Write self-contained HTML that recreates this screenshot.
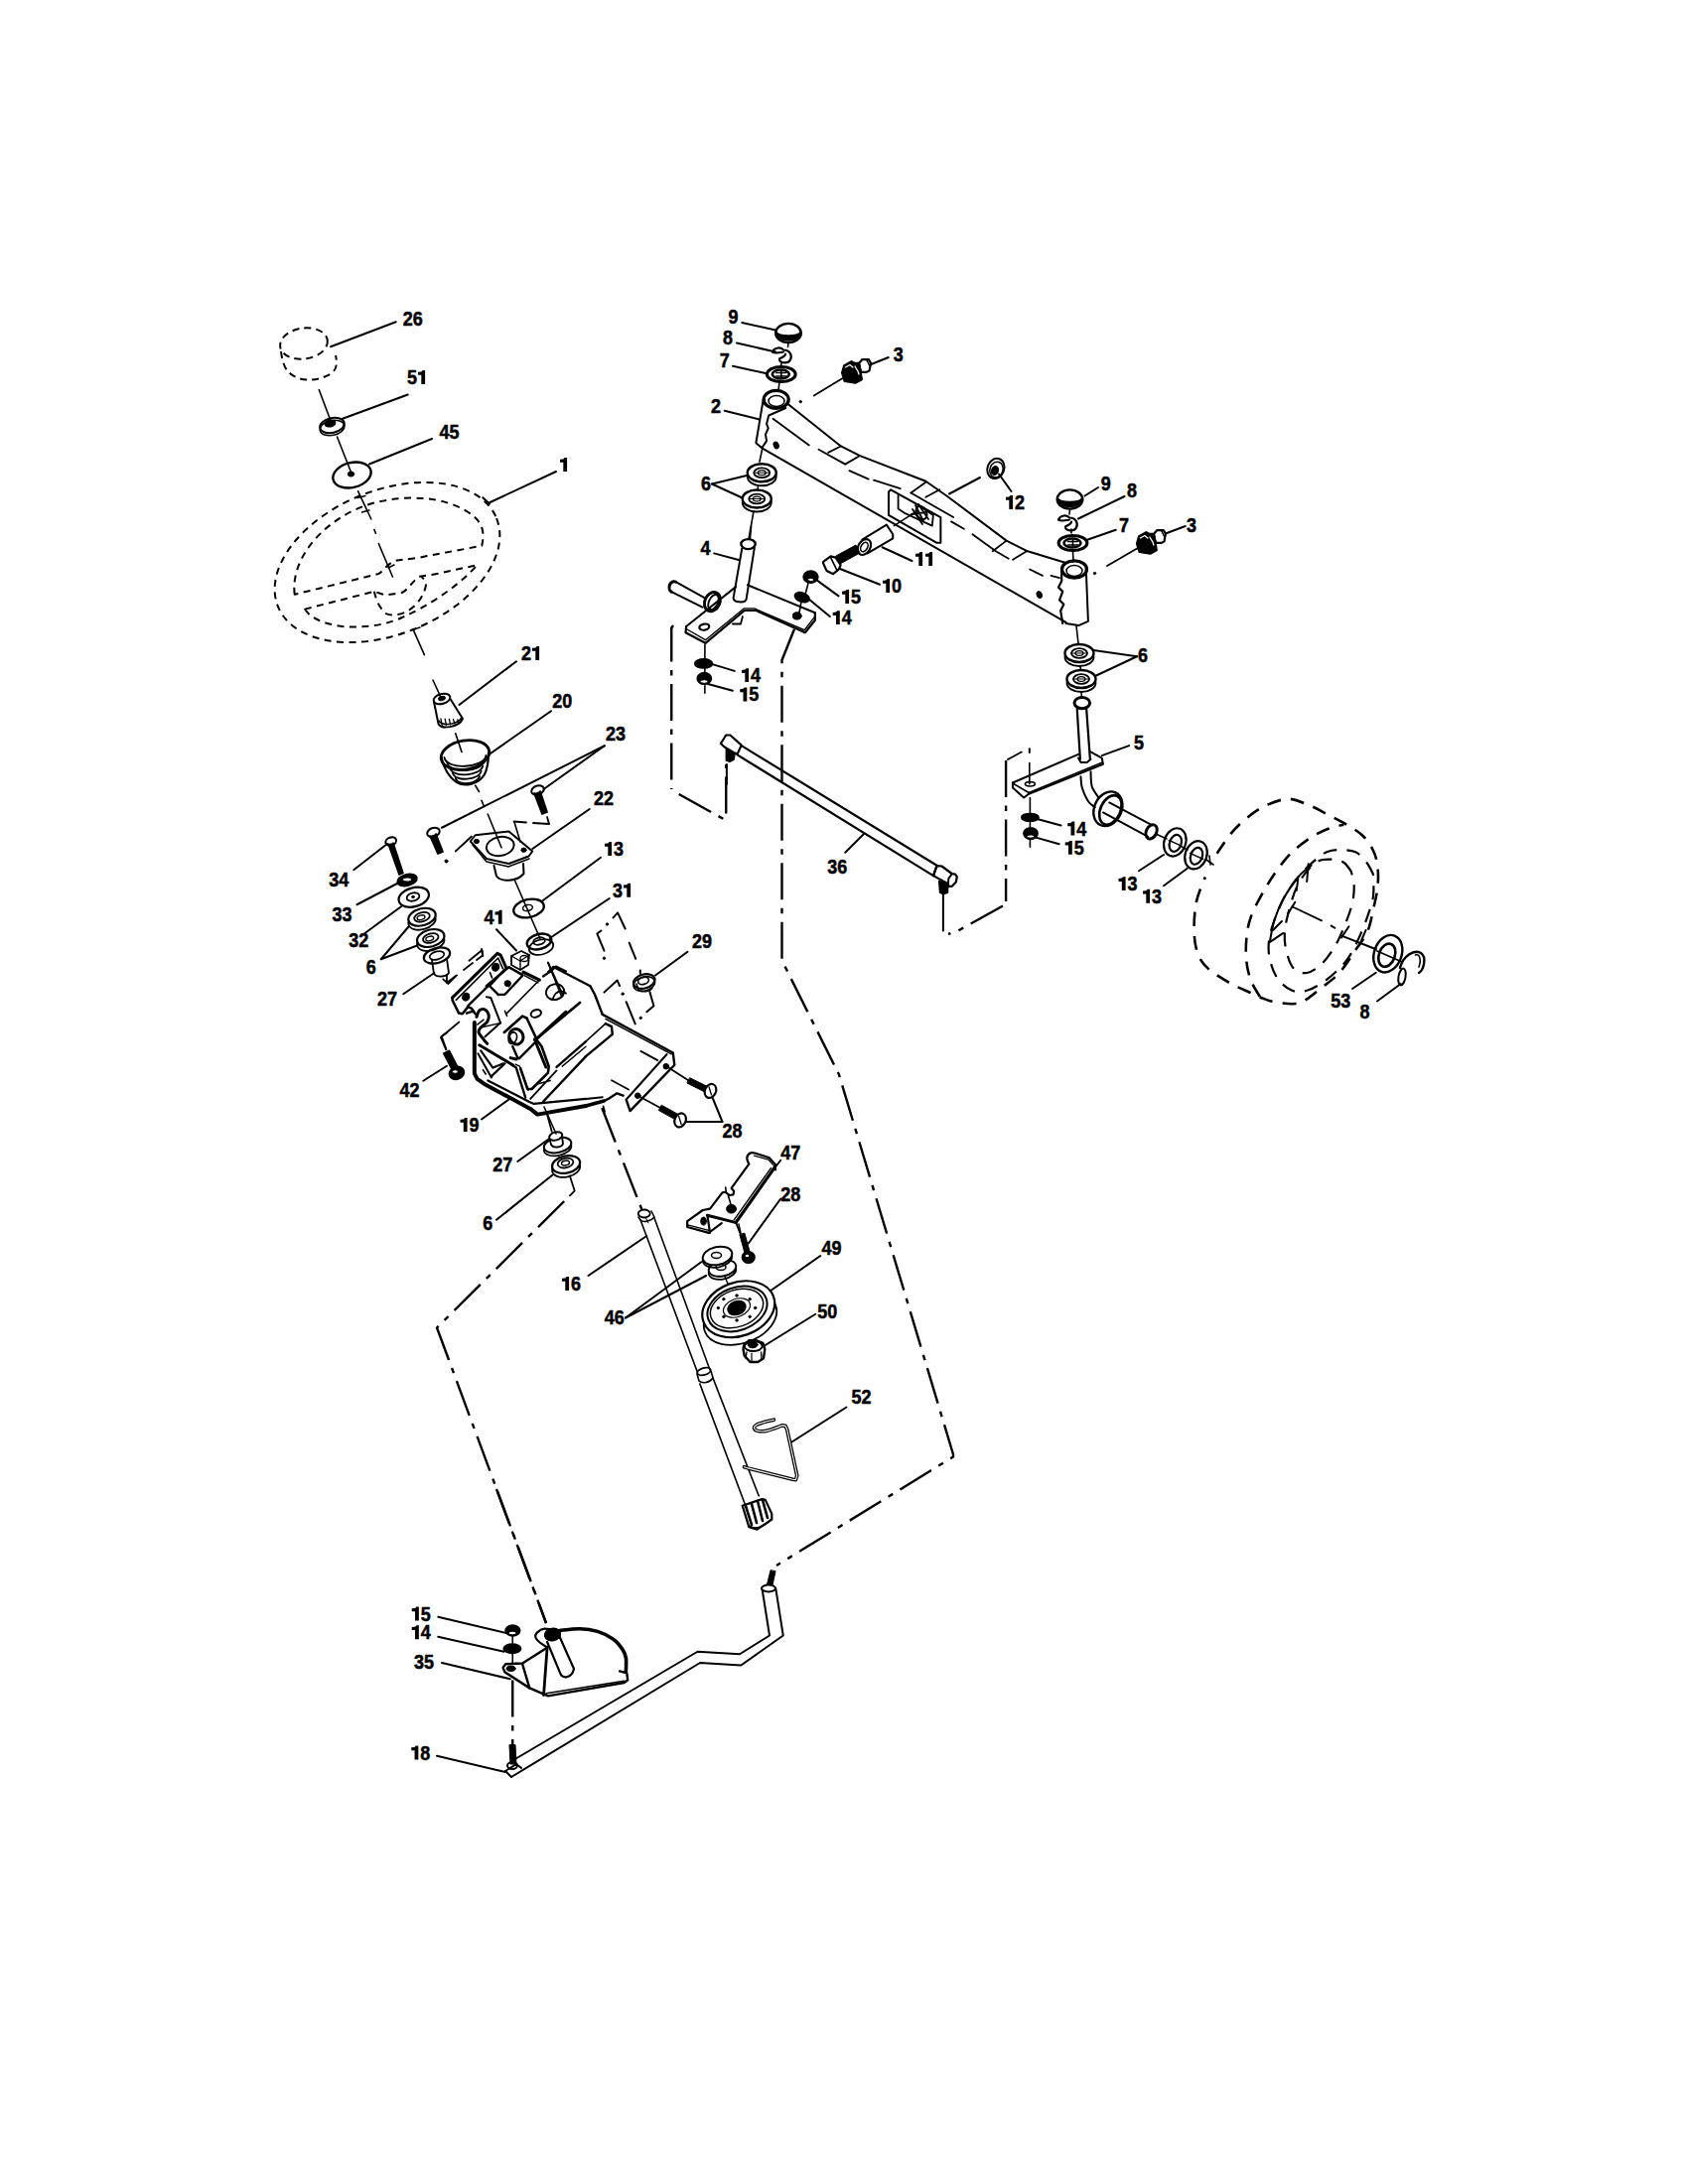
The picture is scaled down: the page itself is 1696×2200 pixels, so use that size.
<!DOCTYPE html>
<html><head><meta charset="utf-8"><style>
html,body{margin:0;padding:0;background:#fff;}
svg{display:block;}
.lb{font-family:"Liberation Sans",sans-serif;font-weight:bold;font-size:20px;fill:#000;stroke:#000;stroke-width:0.5px;}
line,path,ellipse,polygon{stroke:#000;stroke-linecap:round;stroke-linejoin:round;}
.dd{stroke-dasharray:37 8.5 5.5 8.5;stroke-linecap:butt;}
.ds{stroke-dasharray:9 6;stroke-linecap:butt;}
.ds2 *{stroke-dasharray:7 5;stroke-linecap:butt;}
.ds3 *{stroke-dasharray:7 5.5;stroke-linecap:butt;}
.ds4 *{stroke-dasharray:14 10;stroke-linecap:butt;}
</style></head><body>
<svg width="1696" height="2200" viewBox="0 0 1696 2200">
<rect width="1696" height="2200" fill="#fff" stroke="none"/>
<text transform="translate(405.75 328) scale(0.9 1)" class="lb">2</text>
<text transform="translate(415.76 328) scale(0.9 1)" class="lb">6</text>
<text transform="translate(410 387) scale(0.9 1)" class="lb">5</text>
<path d="M424.31,387 L428.11,387 L428.11,373.1 L425.61,373.1 L424.31,374.4 L421.01,374.8 L421.01,377.8 L424.31,377.8 Z" fill="#000" style="stroke:none"/>
<text transform="translate(442.5 442) scale(0.9 1)" class="lb">4</text>
<text transform="translate(452.51 442) scale(0.9 1)" class="lb">5</text>
<path d="M567.3,475 L571.1,475 L571.1,461.1 L568.6,461.1 L567.3,462.4 L564,462.8 L564,465.8 L567.3,465.8 Z" fill="#000" style="stroke:none"/>
<text transform="translate(525 665) scale(0.9 1)" class="lb">2</text>
<path d="M539.31,665 L543.11,665 L543.11,651.1 L540.61,651.1 L539.31,652.4 L536.01,652.8 L536.01,655.8 L539.31,655.8 Z" fill="#000" style="stroke:none"/>
<text transform="translate(556.25 712.5) scale(0.9 1)" class="lb">2</text>
<text transform="translate(566.26 712.5) scale(0.9 1)" class="lb">0</text>
<text transform="translate(610 746.25) scale(0.9 1)" class="lb">2</text>
<text transform="translate(620.01 746.25) scale(0.9 1)" class="lb">3</text>
<text transform="translate(598 811.25) scale(0.9 1)" class="lb">2</text>
<text transform="translate(608.01 811.25) scale(0.9 1)" class="lb">2</text>
<path d="M612.3,862 L616.1,862 L616.1,848.1 L613.6,848.1 L612.3,849.4 L609,849.8 L609,852.8 L612.3,852.8 Z" fill="#000" style="stroke:none"/>
<text transform="translate(618.01 862) scale(0.9 1)" class="lb">3</text>
<text transform="translate(617 903.75) scale(0.9 1)" class="lb">3</text>
<path d="M631.31,903.75 L635.11,903.75 L635.11,889.85 L632.61,889.85 L631.31,891.15 L628.01,891.55 L628.01,894.55 L631.31,894.55 Z" fill="#000" style="stroke:none"/>
<text transform="translate(487.5 930.75) scale(0.9 1)" class="lb">4</text>
<path d="M501.81,930.75 L505.61,930.75 L505.61,916.85 L503.11,916.85 L501.81,918.15 L498.51,918.55 L498.51,921.55 L501.81,921.55 Z" fill="#000" style="stroke:none"/>
<text transform="translate(697 955) scale(0.9 1)" class="lb">2</text>
<text transform="translate(707.01 955) scale(0.9 1)" class="lb">9</text>
<text transform="translate(331.25 892.5) scale(0.9 1)" class="lb">3</text>
<text transform="translate(341.26 892.5) scale(0.9 1)" class="lb">4</text>
<text transform="translate(334.5 927.5) scale(0.9 1)" class="lb">3</text>
<text transform="translate(344.51 927.5) scale(0.9 1)" class="lb">3</text>
<text transform="translate(351.25 953.75) scale(0.9 1)" class="lb">3</text>
<text transform="translate(361.26 953.75) scale(0.9 1)" class="lb">2</text>
<text transform="translate(368.75 981.25) scale(0.9 1)" class="lb">6</text>
<text transform="translate(380 1012.5) scale(0.9 1)" class="lb">2</text>
<text transform="translate(390.01 1012.5) scale(0.9 1)" class="lb">7</text>
<text transform="translate(402.5 1105) scale(0.9 1)" class="lb">4</text>
<text transform="translate(412.51 1105) scale(0.9 1)" class="lb">2</text>
<path d="M466.8,1140 L470.6,1140 L470.6,1126.1 L468.1,1126.1 L466.8,1127.4 L463.5,1127.8 L463.5,1130.8 L466.8,1130.8 Z" fill="#000" style="stroke:none"/>
<text transform="translate(472.51 1140) scale(0.9 1)" class="lb">9</text>
<text transform="translate(727.5 1146.25) scale(0.9 1)" class="lb">2</text>
<text transform="translate(737.51 1146.25) scale(0.9 1)" class="lb">8</text>
<text transform="translate(496.25 1180) scale(0.9 1)" class="lb">2</text>
<text transform="translate(506.26 1180) scale(0.9 1)" class="lb">7</text>
<text transform="translate(486.25 1238.75) scale(0.9 1)" class="lb">6</text>
<text transform="translate(786.25 1167.5) scale(0.9 1)" class="lb">4</text>
<text transform="translate(796.26 1167.5) scale(0.9 1)" class="lb">7</text>
<text transform="translate(786.25 1210) scale(0.9 1)" class="lb">2</text>
<text transform="translate(796.26 1210) scale(0.9 1)" class="lb">8</text>
<path d="M569.3,1300 L573.1,1300 L573.1,1286.1 L570.6,1286.1 L569.3,1287.4 L566,1287.8 L566,1290.8 L569.3,1290.8 Z" fill="#000" style="stroke:none"/>
<text transform="translate(575.01 1300) scale(0.9 1)" class="lb">6</text>
<text transform="translate(608.75 1333.75) scale(0.9 1)" class="lb">4</text>
<text transform="translate(618.76 1333.75) scale(0.9 1)" class="lb">6</text>
<text transform="translate(827.5 1263.75) scale(0.9 1)" class="lb">4</text>
<text transform="translate(837.51 1263.75) scale(0.9 1)" class="lb">9</text>
<text transform="translate(823.25 1327.5) scale(0.9 1)" class="lb">5</text>
<text transform="translate(833.26 1327.5) scale(0.9 1)" class="lb">0</text>
<text transform="translate(857.5 1413.75) scale(0.9 1)" class="lb">5</text>
<text transform="translate(867.51 1413.75) scale(0.9 1)" class="lb">2</text>
<path d="M418.05,1632.5 L421.85,1632.5 L421.85,1618.6 L419.35,1618.6 L418.05,1619.9 L414.75,1620.3 L414.75,1623.3 L418.05,1623.3 Z" fill="#000" style="stroke:none"/>
<text transform="translate(423.76 1632.5) scale(0.9 1)" class="lb">5</text>
<path d="M418.05,1651.25 L421.85,1651.25 L421.85,1637.35 L419.35,1637.35 L418.05,1638.65 L414.75,1639.05 L414.75,1642.05 L418.05,1642.05 Z" fill="#000" style="stroke:none"/>
<text transform="translate(423.76 1651.25) scale(0.9 1)" class="lb">4</text>
<text transform="translate(417 1680.5) scale(0.9 1)" class="lb">3</text>
<text transform="translate(427.01 1680.5) scale(0.9 1)" class="lb">5</text>
<path d="M417.55,1772.5 L421.35,1772.5 L421.35,1758.6 L418.85,1758.6 L417.55,1759.9 L414.25,1760.3 L414.25,1763.3 L417.55,1763.3 Z" fill="#000" style="stroke:none"/>
<text transform="translate(423.26 1772.5) scale(0.9 1)" class="lb">8</text>
<text transform="translate(733.5 326.25) scale(0.9 1)" class="lb">9</text>
<text transform="translate(728 347) scale(0.9 1)" class="lb">8</text>
<text transform="translate(724.75 369.5) scale(0.9 1)" class="lb">7</text>
<text transform="translate(899.75 364) scale(0.9 1)" class="lb">3</text>
<text transform="translate(716 416.25) scale(0.9 1)" class="lb">2</text>
<text transform="translate(706 494) scale(0.9 1)" class="lb">6</text>
<text transform="translate(705.5 558.7) scale(0.9 1)" class="lb">4</text>
<path d="M1016.3,513 L1020.1,513 L1020.1,499.1 L1017.6,499.1 L1016.3,500.4 L1013,500.8 L1013,503.8 L1016.3,503.8 Z" fill="#000" style="stroke:none"/>
<text transform="translate(1022.01 513) scale(0.9 1)" class="lb">2</text>
<path d="M925.3,570 L929.1,570 L929.1,556.1 L926.6,556.1 L925.3,557.4 L922,557.8 L922,560.8 L925.3,560.8 Z" fill="#000" style="stroke:none"/>
<path d="M935.31,570 L939.11,570 L939.11,556.1 L936.61,556.1 L935.31,557.4 L932.01,557.8 L932.01,560.8 L935.31,560.8 Z" fill="#000" style="stroke:none"/>
<path d="M892.3,597 L896.1,597 L896.1,583.1 L893.6,583.1 L892.3,584.4 L889,584.8 L889,587.8 L892.3,587.8 Z" fill="#000" style="stroke:none"/>
<text transform="translate(898.01 597) scale(0.9 1)" class="lb">0</text>
<path d="M851.3,607.9 L855.1,607.9 L855.1,594 L852.6,594 L851.3,595.3 L848,595.7 L848,598.7 L851.3,598.7 Z" fill="#000" style="stroke:none"/>
<text transform="translate(857.01 607.9) scale(0.9 1)" class="lb">5</text>
<path d="M842,629.1 L845.8,629.1 L845.8,615.2 L843.3,615.2 L842,616.5 L838.7,616.9 L838.7,619.9 L842,619.9 Z" fill="#000" style="stroke:none"/>
<text transform="translate(847.71 629.1) scale(0.9 1)" class="lb">4</text>
<path d="M750.3,687.1 L754.1,687.1 L754.1,673.2 L751.6,673.2 L750.3,674.5 L747,674.9 L747,677.9 L750.3,677.9 Z" fill="#000" style="stroke:none"/>
<text transform="translate(756.01 687.1) scale(0.9 1)" class="lb">4</text>
<path d="M748.5,706.4 L752.3,706.4 L752.3,692.5 L749.8,692.5 L748.5,693.8 L745.2,694.2 L745.2,697.2 L748.5,697.2 Z" fill="#000" style="stroke:none"/>
<text transform="translate(754.21 706.4) scale(0.9 1)" class="lb">5</text>
<text transform="translate(833.25 880) scale(0.9 1)" class="lb">3</text>
<text transform="translate(843.26 880) scale(0.9 1)" class="lb">6</text>
<text transform="translate(1108.75 493.75) scale(0.9 1)" class="lb">9</text>
<text transform="translate(1135 500.5) scale(0.9 1)" class="lb">8</text>
<text transform="translate(1127 535.5) scale(0.9 1)" class="lb">7</text>
<text transform="translate(1195 535.5) scale(0.9 1)" class="lb">3</text>
<text transform="translate(1146 667) scale(0.9 1)" class="lb">6</text>
<text transform="translate(1141.9 754.8) scale(0.9 1)" class="lb">5</text>
<path d="M1078.5,841.5 L1082.3,841.5 L1082.3,827.6 L1079.8,827.6 L1078.5,828.9 L1075.2,829.3 L1075.2,832.3 L1078.5,832.3 Z" fill="#000" style="stroke:none"/>
<text transform="translate(1084.21 841.5) scale(0.9 1)" class="lb">4</text>
<path d="M1076,860.8 L1079.8,860.8 L1079.8,846.9 L1077.3,846.9 L1076,848.2 L1072.7,848.6 L1072.7,851.6 L1076,851.6 Z" fill="#000" style="stroke:none"/>
<text transform="translate(1081.71 860.8) scale(0.9 1)" class="lb">5</text>
<path d="M1129.8,897.1 L1133.6,897.1 L1133.6,883.2 L1131.1,883.2 L1129.8,884.5 L1126.5,884.9 L1126.5,887.9 L1129.8,887.9 Z" fill="#000" style="stroke:none"/>
<text transform="translate(1135.51 897.1) scale(0.9 1)" class="lb">3</text>
<path d="M1154.3,909.75 L1158.1,909.75 L1158.1,895.85 L1155.6,895.85 L1154.3,897.15 L1151,897.55 L1151,900.55 L1154.3,900.55 Z" fill="#000" style="stroke:none"/>
<text transform="translate(1160.01 909.75) scale(0.9 1)" class="lb">3</text>
<text transform="translate(1340.25 1014.75) scale(0.9 1)" class="lb">5</text>
<text transform="translate(1350.26 1014.75) scale(0.9 1)" class="lb">3</text>
<text transform="translate(1369.5 1025.5) scale(0.9 1)" class="lb">8</text>
<line x1="398.75" y1="324.25" x2="333" y2="349.25" stroke-width="2" />
<line x1="410.75" y1="397.5" x2="345" y2="421.75" stroke-width="2" />
<line x1="435" y1="442" x2="372" y2="467.5" stroke-width="2" />
<line x1="560" y1="475" x2="493" y2="506.25" stroke-width="2" />
<line x1="520" y1="666.25" x2="462.5" y2="710" stroke-width="2" />
<line x1="555" y1="716.25" x2="492.5" y2="760" stroke-width="2" />
<line x1="608.75" y1="751.25" x2="547.5" y2="795" stroke-width="2" />
<line x1="608.75" y1="751.25" x2="445" y2="833.75" stroke-width="2" />
<line x1="593.75" y1="815" x2="536.25" y2="855" stroke-width="2" />
<line x1="605" y1="863.75" x2="546.25" y2="907.5" stroke-width="2" />
<line x1="613.75" y1="905" x2="553.75" y2="945" stroke-width="2" />
<line x1="500" y1="936.25" x2="520" y2="957.5" stroke-width="2" />
<line x1="692.5" y1="958.75" x2="660" y2="982.5" stroke-width="2" />
<line x1="356.25" y1="876.25" x2="390" y2="850" stroke-width="2" />
<line x1="359.5" y1="911.25" x2="400" y2="890" stroke-width="2" />
<line x1="367.5" y1="940" x2="405" y2="912.5" stroke-width="2" />
<line x1="383.75" y1="966.25" x2="411.25" y2="933.75" stroke-width="2" />
<line x1="383.75" y1="966.25" x2="420" y2="952.5" stroke-width="2" />
<line x1="406.25" y1="1001.25" x2="437.5" y2="980" stroke-width="2" />
<line x1="426.25" y1="1088.75" x2="450" y2="1073.75" stroke-width="2" />
<line x1="485" y1="1127.5" x2="512.5" y2="1107.5" stroke-width="2" />
<line x1="727.5" y1="1130" x2="716.25" y2="1102.5" stroke-width="2" />
<line x1="727.5" y1="1130" x2="688.75" y2="1130" stroke-width="2" />
<line x1="521.25" y1="1170" x2="552.5" y2="1147.5" stroke-width="2" />
<line x1="500" y1="1228.75" x2="556.25" y2="1183.75" stroke-width="2" />
<line x1="781.25" y1="1175" x2="786.25" y2="1168.75" stroke-width="2" />
<line x1="753.75" y1="1252.5" x2="786.25" y2="1207.5" stroke-width="2" />
<line x1="592.5" y1="1285" x2="651.25" y2="1245" stroke-width="2" />
<line x1="630" y1="1327.5" x2="706.25" y2="1271.25" stroke-width="2" />
<line x1="630" y1="1327.5" x2="711.25" y2="1285" stroke-width="2" />
<line x1="776.25" y1="1300" x2="826.25" y2="1265" stroke-width="2" />
<line x1="768.75" y1="1356.25" x2="821.25" y2="1323.75" stroke-width="2" />
<line x1="797.5" y1="1452.5" x2="852.5" y2="1417.5" stroke-width="2" />
<line x1="441.25" y1="1628.75" x2="510" y2="1645" stroke-width="2" />
<line x1="441.25" y1="1648.75" x2="507.5" y2="1663.75" stroke-width="2" />
<line x1="445" y1="1675" x2="513.75" y2="1691.25" stroke-width="2" />
<line x1="440" y1="1768.75" x2="508.75" y2="1785" stroke-width="2" />
<line x1="747.25" y1="325" x2="781" y2="332.5" stroke-width="2" />
<line x1="742" y1="345.5" x2="781" y2="354.5" stroke-width="2" />
<line x1="738" y1="368.75" x2="772" y2="376.25" stroke-width="2" />
<line x1="894.75" y1="360" x2="876" y2="367.5" stroke-width="2" />
<line x1="729.75" y1="413.75" x2="764.75" y2="422.5" stroke-width="2" />
<line x1="717" y1="487.5" x2="752" y2="479" stroke-width="2" />
<line x1="717" y1="487.5" x2="749.75" y2="502.5" stroke-width="2" />
<line x1="719.2" y1="557.4" x2="744.8" y2="564.3" stroke-width="2" />
<line x1="1006" y1="477.5" x2="1018.5" y2="495" stroke-width="2" />
<line x1="956" y1="497.5" x2="987" y2="481" stroke-width="2" />
<line x1="918.5" y1="565" x2="888.5" y2="551.25" stroke-width="2" />
<line x1="843.5" y1="572" x2="886" y2="588.75" stroke-width="2" />
<line x1="823.3" y1="584.9" x2="844.5" y2="600.4" stroke-width="2" />
<line x1="814.6" y1="603.6" x2="835.8" y2="621" stroke-width="2" />
<line x1="714.9" y1="668.4" x2="739.8" y2="675.9" stroke-width="2" />
<line x1="713" y1="689" x2="737.9" y2="695.8" stroke-width="2" />
<line x1="851.25" y1="858.75" x2="870" y2="840" stroke-width="2" />
<line x1="1092.5" y1="499.5" x2="1106" y2="491" stroke-width="2" />
<line x1="1086" y1="522.5" x2="1132.5" y2="500" stroke-width="2" />
<line x1="1095" y1="543.75" x2="1123.75" y2="533.75" stroke-width="2" />
<line x1="1173.75" y1="537.5" x2="1193.75" y2="530" stroke-width="2" />
<line x1="1145" y1="661.25" x2="1101.25" y2="655" stroke-width="2" />
<line x1="1145" y1="661.25" x2="1102.5" y2="681.25" stroke-width="2" />
<line x1="1109.7" y1="761.1" x2="1137.1" y2="751.1" stroke-width="2" />
<line x1="1043.6" y1="824.7" x2="1068.6" y2="831.5" stroke-width="2" />
<line x1="1042.4" y1="843.4" x2="1066.7" y2="850.2" stroke-width="2" />
<line x1="1147" y1="877.25" x2="1172" y2="861" stroke-width="2" />
<line x1="1172" y1="892.25" x2="1195.75" y2="874.75" stroke-width="2" />
<line x1="1362" y1="996" x2="1385.75" y2="979.75" stroke-width="2" />
<line x1="1387" y1="1008.5" x2="1410.75" y2="991" stroke-width="2" />
<line x1="486.25" y1="501.25" x2="493" y2="507.5" stroke-width="2" />
<g class="ds2">
<ellipse cx="306" cy="346" rx="24" ry="15.5" stroke-width="2" fill="none" transform="rotate(-8 306 346)" />
<path d="M283,354 C284,362 286,370 290,374 C298,384 318,386 334,376 C339,372 340,366 338,358" stroke-width="2" fill="none" />
</g>
<line x1="321.25" y1="392.5" x2="332.5" y2="422.5" stroke-width="1.6" />
<ellipse cx="334.5" cy="431" rx="12.5" ry="7.5" stroke-width="1.6" fill="none" transform="rotate(-12 334.5 431)" />
<ellipse cx="334.5" cy="428.5" rx="12.5" ry="7.5" stroke-width="2" fill="none" transform="rotate(-12 334.5 428.5)" />
<ellipse cx="332.5" cy="426.5" rx="5.5" ry="3.5" stroke-width="1" fill="#000" transform="rotate(-12 332.5 426.5)" />
<line x1="339.5" y1="440" x2="353.75" y2="476.25" stroke-width="1.6" />
<ellipse cx="354.5" cy="478.5" rx="19.5" ry="12.5" stroke-width="2.4" fill="none" transform="rotate(-14 354.5 478.5)" />
<ellipse cx="353.5" cy="477.5" rx="3.2" ry="2.6" stroke-width="1" fill="#000" />
<g class="ds3">
<ellipse cx="390" cy="566.5" rx="118.7" ry="72.5" stroke-width="2" fill="none" transform="rotate(-22 390 566.5)" />
<path d="M296.7,598.8 C292,560 330,520 375,507 C410,498 445,500 470,515 C490,527 487,540 485.3,549.8 L430,560 C410,565 400,562 393,567.6 C388,571 385,576 381.3,578 Z" stroke-width="2" fill="none" />
<path d="M307.1,613.6 C312,622 325,629 348.7,631.4 C365,632 385,631 405,622 C430,611 460,592 480.8,569.1 L440,578 C430,580 424,580 421.4,581 C412,590 408,597 403.6,597.3 C395,598 390,600 385.8,598.8 L376.9,595.8 Z" stroke-width="2" fill="none" />
<path d="M376.9,595.8 C378,601 381,612 388.8,618.1 C395,621 405,619 411,615.1 C420,610 427,600 428.9,589.9 C429,585 426,582 424.4,581" stroke-width="2" fill="none" />
</g>
<line x1="360.6" y1="494.8" x2="373.9" y2="523" stroke-width="1.6" />
<line x1="360" y1="501.5" x2="368" y2="499.5" stroke-width="1.4" />
<line x1="364.5" y1="516" x2="372" y2="514" stroke-width="1.4" />
<line x1="376.9" y1="533.4" x2="378.4" y2="537.2" stroke-width="1.6" />
<line x1="381.3" y1="547.5" x2="395.4" y2="581" stroke-width="1.6" />
<line x1="391" y1="572" x2="397" y2="569" stroke-width="1.4" />
<line x1="416.2" y1="634.4" x2="427.4" y2="659.6" stroke-width="1.6" />
<line x1="415.5" y1="634.4" x2="423" y2="632" stroke-width="1.4" />
<line x1="436" y1="685" x2="444" y2="702.5" stroke-width="1.6" />
<path d="M437,707 L441.5,729 C444,735 462,733 466,724 L453.5,704" stroke-width="2" fill="none" />
<ellipse cx="445" cy="704" rx="8.5" ry="5" stroke-width="2" fill="none" transform="rotate(-15 445 704)" />
<ellipse cx="445" cy="703.5" rx="3.5" ry="2" stroke-width="1" fill="#000" transform="rotate(-15 445 703.5)" />
<path d="M442,726 C446,732 460,730 465,723" stroke-width="1.5" fill="none" />
<line x1="444" y1="724" x2="445.2" y2="731" stroke-width="1.3" />
<line x1="448.2" y1="724.2" x2="449.4" y2="730.4" stroke-width="1.3" />
<line x1="452.4" y1="724.4" x2="453.6" y2="729.8" stroke-width="1.3" />
<line x1="456.6" y1="724.6" x2="457.8" y2="729.2" stroke-width="1.3" />
<line x1="460.8" y1="724.8" x2="462" y2="728.6" stroke-width="1.3" />
<line x1="458.75" y1="738.75" x2="465" y2="757.5" stroke-width="1.6" />
<ellipse cx="468.5" cy="760.5" rx="24.5" ry="14.5" stroke-width="2.8" fill="none" transform="rotate(-10 468.5 760.5)" />
<path d="M444.5,763 C446,772 452,783 460,788 C468,793 482,790 488,780 C491,774 492,766 492,758" stroke-width="2.2" fill="none" />
<path d="M447.5,763.0 C449.5,776.0 487.5,774.0 489.5,761.0" stroke-width="1.8" fill="none" />
<path d="M450.3,768.2 C452.3,780.0 485.9,778.0 487.9,766.2" stroke-width="1.8" fill="none" />
<path d="M453.1,773.4 C455.1,784.0 484.3,782.0 486.3,771.4" stroke-width="1.8" fill="none" />
<path d="M455.9,778.6 C457.9,788.0 482.7,786.0 484.7,776.6" stroke-width="1.8" fill="none" />
<path d="M458.7,783.8 C460.7,792.0 481.1,790.0 483.1,781.8" stroke-width="1.8" fill="none" />
<line x1="478.75" y1="791.25" x2="482.5" y2="797.5" stroke-width="1.6" />
<line x1="485" y1="806.25" x2="487.5" y2="812.5" stroke-width="1.6" />
<line x1="491.25" y1="820" x2="505" y2="853.75" stroke-width="1.6" />
<ellipse cx="541.5" cy="796" rx="6.5" ry="4.5" stroke-width="2" fill="none" transform="rotate(-20 541.5 796)" />
<path d="M538,799 L546,820 L551,818 L544,797" stroke-width="1.8" fill="#000" />
<ellipse cx="436.5" cy="838.5" rx="6.5" ry="4.5" stroke-width="2" fill="none" transform="rotate(-20 436.5 838.5)" />
<path d="M433,842 L441,860 L446,858 L439,840" stroke-width="1.8" fill="#000" />
<line x1="517.5" y1="827.5" x2="530" y2="828.5" stroke-width="1.8" />
<line x1="537" y1="829" x2="553" y2="830" stroke-width="1.8" />
<line x1="553" y1="830" x2="551" y2="823" stroke-width="1.8" />
<line x1="518" y1="828" x2="524" y2="848" stroke-width="1.6" />
<ellipse cx="449.5" cy="867.5" rx="1.5" ry="1.5" stroke-width="1" fill="#000" />
<line x1="458.75" y1="857.5" x2="475" y2="842.5" stroke-width="1.8" />
<path d="M473.75,847.5 L478.75,841.25 L512.5,837.5 L536.25,857.5 L532.5,862.5 L512.5,870 L490,865 Z" stroke-width="2" fill="none" />
<path d="M476,851 L490,868 L512,873 L533,865" stroke-width="1.5" fill="none" />
<ellipse cx="503.75" cy="852.5" rx="14" ry="9.5" stroke-width="2" fill="none" transform="rotate(-10 503.75 852.5)" />
<ellipse cx="480" cy="847.5" rx="2.6" ry="2.2" stroke-width="1" fill="#000" />
<ellipse cx="527.5" cy="856.25" rx="2.6" ry="2.2" stroke-width="1" fill="#000" />
<path d="M497.5,872 L500,882.5 C504,888 520,889 527.5,880 L527,870" stroke-width="2" fill="none" />
<line x1="518.75" y1="887.5" x2="543.75" y2="945" stroke-width="1.6" />
<ellipse cx="532.5" cy="915" rx="15.5" ry="9" stroke-width="2.4" fill="none" transform="rotate(-12 532.5 915)" />
<ellipse cx="531.5" cy="914.5" rx="5" ry="3" stroke-width="1.5" fill="none" transform="rotate(-12 531.5 914.5)" />
<ellipse cx="545" cy="954" rx="12.5" ry="7.5" stroke-width="1.8" fill="none" transform="rotate(-15 545 954)" />
<ellipse cx="543" cy="948.5" rx="12.5" ry="7.5" stroke-width="2.4" fill="none" transform="rotate(-15 543 948.5)" />
<ellipse cx="543" cy="948" rx="6" ry="3.5" stroke-width="1.8" fill="none" transform="rotate(-15 543 948)" />
<path d="M515,963 L525,958 L533,962 L532,972 L524,977 L515,972 Z" stroke-width="1.8" fill="none" />
<line x1="515" y1="963" x2="524" y2="968" stroke-width="1.4" />
<line x1="524" y1="968" x2="533" y2="962" stroke-width="1.4" />
<line x1="524" y1="968" x2="524" y2="977" stroke-width="1.4" />
<ellipse cx="528" cy="965.5" rx="4" ry="3" stroke-width="1.4" fill="none" />
<ellipse cx="393.75" cy="847.5" rx="5.5" ry="4" stroke-width="2" fill="none" transform="rotate(-20 393.75 847.5)" />
<path d="M391,850 L402,881 L406,879.5 L396,849" stroke-width="1.6" fill="#000" />
<ellipse cx="410" cy="886.5" rx="10" ry="5.5" stroke-width="2" fill="#000" transform="rotate(-15 410 886.5)" />
<ellipse cx="410" cy="886" rx="4.5" ry="2" fill="#fff" stroke="none"/>
<ellipse cx="416.75" cy="903.75" rx="15.5" ry="9.5" stroke-width="2.2" fill="none" transform="rotate(-15 416.75 903.75)" />
<ellipse cx="416" cy="903.5" rx="6.5" ry="4" stroke-width="1.8" fill="none" transform="rotate(-15 416 903.5)" />
<ellipse cx="416" cy="903.5" rx="1.4" ry="1.2" stroke-width="1" fill="#000" />
<ellipse cx="425" cy="927.75" rx="14" ry="8.5" stroke-width="1.8" fill="none" transform="rotate(-15 425 927.75)" />
<ellipse cx="425" cy="923.75" rx="14" ry="8.5" transform="rotate(-15 425 923.75)" fill="#fff" stroke-width="2.2"/>
<ellipse cx="425" cy="923.75" rx="8" ry="4.5" stroke-width="1.8" fill="none" transform="rotate(-15 425 923.75)" />
<ellipse cx="424" cy="924.25" rx="4" ry="2.2" stroke-width="1.4" fill="none" transform="rotate(-15 424 924.25)" />
<ellipse cx="433.75" cy="949" rx="14" ry="8.5" stroke-width="1.8" fill="none" transform="rotate(-15 433.75 949)" />
<ellipse cx="433.75" cy="945" rx="14" ry="8.5" transform="rotate(-15 433.75 945)" fill="#fff" stroke-width="2.2"/>
<ellipse cx="433.75" cy="945" rx="8" ry="4.5" stroke-width="1.8" fill="none" transform="rotate(-15 433.75 945)" />
<ellipse cx="432.75" cy="945.5" rx="4" ry="2.2" stroke-width="1.4" fill="none" transform="rotate(-15 432.75 945.5)" />
<path d="M435,967 L437,981 C440,985 450,984 452,980 L450,966" stroke-width="1.8" fill="none" />
<ellipse cx="440" cy="962.5" rx="13.5" ry="7.5" stroke-width="2.2" fill="none" transform="rotate(-15 440 962.5)" />
<ellipse cx="440" cy="962.5" rx="7.5" ry="4" stroke-width="1.6" fill="none" transform="rotate(-15 440 962.5)" />
<line x1="450" y1="982" x2="450" y2="990" stroke-width="1.8" />
<line x1="450" y1="990" x2="459" y2="983" stroke-width="1.8" />
<line x1="467" y1="977" x2="476" y2="970" stroke-width="1.8" />
<line x1="480" y1="967" x2="486" y2="962.5" stroke-width="1.8" />
<line x1="486" y1="962.5" x2="485" y2="956" stroke-width="1.8" />
<ellipse cx="648.75" cy="991" rx="11" ry="7" stroke-width="1.6" fill="none" transform="rotate(-15 648.75 991)" />
<ellipse cx="648.75" cy="988.5" rx="11" ry="7" stroke-width="2.2" fill="none" transform="rotate(-15 648.75 988.5)" />
<ellipse cx="648" cy="988" rx="5.5" ry="3.5" stroke-width="1.6" fill="none" transform="rotate(-15 648 988)" />
<path d="M641,991 L643,997 C647,1000 655,999 657,995" stroke-width="1.6" fill="none" />
<path d="M617.54,924.42 L622.08,919.37 L629.65,935.52" stroke-width="2" fill="none" />
<path d="M605.43,937.54 L601.39,940.57 L608.46,957.73" stroke-width="2" fill="none" />
<path d="M633.69,949.65 L640.25,965.81" stroke-width="2" fill="none" />
<path d="M608.46,999.62 L621.58,987.51 L624.1,993.06" stroke-width="2" fill="none" />
<path d="M630.66,1009.21 L639.75,1031.42" stroke-width="2" fill="none" />
<path d="M651.36,1019.31 L658.43,1013.25 L654.39,999.12" stroke-width="2" fill="none" />
<path d="M644.8,977.42 L644.8,980.95" stroke-width="2" fill="none" />
<ellipse cx="611.48" cy="930.98" rx="1.2" ry="1.2" stroke-width="1" fill="#000" />
<ellipse cx="608.46" cy="965.3" rx="1.2" ry="1.2" stroke-width="1" fill="#000" />
<ellipse cx="627.13" cy="1001.14" rx="1.2" ry="1.2" stroke-width="1" fill="#000" />
<ellipse cx="645.3" cy="1025.37" rx="1.2" ry="1.2" stroke-width="1" fill="#000" />
<path d="M455.7,1004.89 L500.96,960.35 L504.17,962.13 L509.52,974.24" stroke-width="3" fill="none" />
<path d="M459.27,1007.39 L501.67,964.98 L506.31,975.31" stroke-width="1.6" fill="none" />
<path d="M455.7,1004.89 L455.7,1007.74 L462.12,1020.57 L465.68,1021.29 L471.38,1014.16 L474.59,1015.58 L477.44,1019.5" stroke-width="2.6" fill="none" />
<path d="M471.38,1013.09 L489.91,994.91 L495.62,990.64 L508.09,976.38" stroke-width="2.2" fill="none" />
<ellipse cx="499.18" cy="974.24" rx="3.5" ry="4" stroke-width="1" fill="#000" transform="rotate(30 499.18 974.24)" />
<ellipse cx="469.24" cy="1004.18" rx="3.5" ry="4" stroke-width="1" fill="#000" transform="rotate(30 469.24 1004.18)" />
<path d="M489.91,993.13 L512.37,974.24 L526.27,982.08" stroke-width="2.6" fill="none" />
<path d="M526.27,982.8 L510.58,999.55 L508.45,1001.69 L502.03,1002.04 L492.77,992.78" stroke-width="2.4" fill="none" />
<path d="M493.48,979.59 L495.62,984.94" stroke-width="1.6" fill="none" />
<ellipse cx="511.3" cy="990.64" rx="3.2" ry="3" stroke-width="1" fill="#000" />
<path d="M511.3,992.06 L512.72,993.85" stroke-width="1.6" fill="none" />
<path d="M526.98,979.23 L543.37,987.07" stroke-width="3.2" fill="none" />
<path d="M528.4,982.8 L541.95,989.93" stroke-width="1.4" fill="none" />
<path d="M541.95,988.5 L510.58,1020.57" stroke-width="1.6" fill="none" />
<path d="M546.94,983.51 L555.49,977.81 L559.76,973.53 L570.03,978.52" stroke-width="2.2" fill="none" />
<ellipse cx="559.05" cy="999.19" rx="9.3" ry="7.8" stroke-width="2" fill="none" transform="rotate(-15 559.05 999.19)" />
<path d="M556.2,1007.0 C556.8,1006.0 558.2,1002.0 559.8,1000.6 C561.3,999.2 563.8,998.5 565.5,998.5 C567.2,998.5 569.3,1000.3 570.0,1000.6" stroke-width="1.8" fill="none" />
<path d="M551.92,969.97 L565.47,1003.47" stroke-width="1.6" fill="none" />
<ellipse cx="539.81" cy="1020.93" rx="5.3" ry="3.6" stroke-width="2" fill="none" transform="rotate(-20 539.81 1020.93)" />
<path d="M541.23,1045.52 L570.03,1019.15" stroke-width="2.8" fill="none" />
<path d="M538.38,1046.95 L549.79,1075.03" stroke-width="3" fill="none" />
<path d="M508.45,1018.44 L510.58,1023.42" stroke-width="1.6" fill="none" />
<path d="M489.91,1004.18 L494.19,1004.89 L504.17,1030.55" stroke-width="2" fill="none" />
<path d="M480.0,1024.3 C480.5,1023.2 481.4,1019.0 482.8,1017.8 C484.3,1016.7 487.0,1016.4 488.5,1017.1 C490.1,1017.8 491.7,1020.1 492.1,1022.1 C492.5,1024.1 492.0,1027.1 490.7,1029.2 C489.4,1031.4 485.7,1033.2 484.3,1034.9 C482.8,1036.7 481.6,1037.9 482.1,1039.9 C482.6,1042.0 485.7,1045.2 487.1,1047.1 C488.5,1049.0 490.1,1050.6 490.7,1051.3" stroke-width="3" fill="none" />
<path d="M470,1020.69 L476.41,1018.55 L479.98,1022.83" stroke-width="2.4" fill="none" />
<path d="M480.69,1032.1 L487.11,1027.11" stroke-width="1.4" fill="none" />
<path d="M484.26,1034.95 L503.5,1030.67" stroke-width="1.4" fill="none" />
<path d="M488.53,1044.21 L503.5,1030.67" stroke-width="2" fill="none" />
<path d="M477.84,1029.96 L477.84,1081.28 L480.69,1086.98 L487.82,1091.97 L534.15,1116.91 L541.28,1122.62 L590.03,1114.06" stroke-width="4" fill="none" />
<path d="M491.38,1088.4 L532.72,1109.79 L537.71,1111.92 L590.03,1106.94" stroke-width="2.2" fill="none" />
<path d="M482.83,1052.77 L516.33,1072.72" stroke-width="3" fill="none" />
<path d="M481.4,1061.32 L494.95,1085.55" stroke-width="2" fill="none" />
<path d="M484.26,1058.47 L496.37,1075.57 L507.06,1071.3" stroke-width="2.2" fill="none" />
<path d="M486.39,1077.71 L489.24,1081.99" stroke-width="1.6" fill="none" />
<path d="M494.95,1084.13 L508.49,1071.3" stroke-width="2.2" fill="none" />
<path d="M515.62,1072.72 L519.89,1075.57 L529.16,1105.51" stroke-width="2.4" fill="none" />
<path d="M519.18,1072.01 L523.46,1074.15 L532.01,1098.38" stroke-width="1.4" fill="none" />
<path d="M530.58,1025.68 L541.28,1048.49 L545.55,1054.19 L552.68,1074.15 L551.97,1080.56 L535.57,1096.96 L531.3,1096.96 L524.17,1076.29" stroke-width="2.6" fill="none" />
<path d="M507.78,1039.94 L526.31,1023.54 L530.58,1025.68" stroke-width="2.6" fill="none" />
<ellipse cx="519.89" cy="1044.21" rx="7" ry="7.8" stroke-width="3" fill="none" transform="rotate(-20 519.89 1044.21)" />
<ellipse cx="516.33" cy="1045.64" rx="4" ry="6" stroke-width="1.6" fill="none" transform="rotate(20 516.33 1045.64)" />
<path d="M516.33,1054.19 L521.32,1065.6 L522.74,1066.31 L538.42,1050.63" stroke-width="2.4" fill="none" />
<path d="M514.19,1065.6 L519.89,1067.02" stroke-width="3" fill="none" />
<path d="M541.28,1045.64 L584.04,1010" stroke-width="2.6" fill="none" />
<path d="M560.52,1074.86 L590.03,1049.2" stroke-width="2.4" fill="none" />
<path d="M566.22,1074.15 L590.03,1054.19" stroke-width="1.4" fill="none" />
<path d="M534.15,1106.94 L560.52,1078.42" stroke-width="1.8" fill="none" />
<path d="M546.98,1109.79 L590.03,1064.17" stroke-width="2.4" fill="none" />
<path d="M541.28,1091.97 L554.11,1088.4" stroke-width="1.6" fill="none" />
<path d="M589.92,1064.13 L616.78,1041.9 L616.01,1034.18 L609.83,1031.09" stroke-width="2.4" fill="none" />
<path d="M589.92,1049.16 L609.83,1031.09" stroke-width="1.6" fill="none" />
<path d="M589.92,1114 L608.29,1109.06" stroke-width="3.6" fill="none" />
<path d="M589.92,1106.9 L606.74,1105.2" stroke-width="2" fill="none" />
<path d="M606.74,1021.83 L677.76,1060.43 L679.31,1072.78 L634.53,1119.1 L630.67,1107.52" stroke-width="2.4" fill="none" />
<path d="M609.83,1026.46 L676.22,1061.97" stroke-width="1.4" fill="none" />
<path d="M671.59,1061.97 L631.45,1106.74" stroke-width="2" fill="none" />
<path d="M608.29,1109.06 L612.92,1106.74 L621.41,1101.34 L627.59,1103.66" stroke-width="2.4" fill="none" />
<path d="M594.39,993.27 L599.02,1001.76 L606.74,1021.83" stroke-width="2.4" fill="none" />
<path d="M557.34,973.97 L594.39,993.27" stroke-width="2.4" fill="none" />
<path d="M557.34,973.97 L551.93,979.37" stroke-width="2.2" fill="none" />
<path d="M645.34,1058.88 L662.33,1068.15" stroke-width="1.8" fill="none" />
<path d="M616.01,1088.22 L632.99,1097.48" stroke-width="1.8" fill="none" />
<path d="M607.52,1114.46 L609.06,1119.87" stroke-width="1.8" fill="none" />
<path d="M551.16,1122.96 L555.79,1139.94" stroke-width="1.8" fill="none" />
<path d="M551.93,969.33 L566.6,1001.76" stroke-width="1.8" fill="none" />
<path d="M472.42,967.79 L485.55,956.98 L486.32,963.16" stroke-width="1.8" fill="none" />
<path d="M446.18,986.32 L451.58,990.95 L460.07,982.46" stroke-width="1.8" fill="none" />
<path d="M462.39,1029.55 L443.86,1044.99 L449.26,1057.34" stroke-width="1.8" fill="none" />
<path d="M446.5,1061 L455.5,1078.5 L461.5,1075.5 L452.5,1058 Z" stroke-width="1.2" fill="#000" />
<ellipse cx="459.9" cy="1080.9" rx="7.4" ry="6" stroke-width="2.2" fill="#000" transform="rotate(-20 459.9 1080.9)" />
<ellipse cx="458.5" cy="1079.5" rx="3" ry="1.8" fill="#fff" stroke="none"/>
<path d="M450.4,1040 L444.7,1043.8 L449.45,1057.1" stroke-width="1.8" fill="none" />
<path d="M692.26,1091.19 L709.36,1099.69 L712.04,1094.31 L694.94,1085.81 Z" stroke-width="1" fill="#000" />
<ellipse cx="715.5" cy="1098.9" rx="5.5" ry="7.2" stroke-width="2.2" fill="#fff" transform="rotate(25 715.5 1098.9)" />
<line x1="714" y1="1094.9" x2="716.5" y2="1102.9" stroke-width="1.4" />
<ellipse cx="670.8" cy="1074.2" rx="2.8" ry="2.8" stroke-width="1" fill="#000" />
<line x1="673.8" y1="1075.7" x2="693.6" y2="1088.5" stroke-width="1.8" />
<path d="M663.64,1118.62 L680.74,1128.12 L683.66,1122.88 L666.56,1113.38 Z" stroke-width="1" fill="#000" />
<ellipse cx="685.1" cy="1128.4" rx="5.5" ry="7.2" stroke-width="2.2" fill="#fff" transform="rotate(25 685.1 1128.4)" />
<line x1="683.6" y1="1124.4" x2="686.1" y2="1132.4" stroke-width="1.4" />
<ellipse cx="642.3" cy="1103.7" rx="2.8" ry="2.8" stroke-width="1" fill="#000" />
<line x1="645.3" y1="1105.2" x2="665.1" y2="1116" stroke-width="1.8" />
<path d="M553.5,1145 L555,1153 M566,1144 L567,1152" stroke-width="1.8" fill="none" />
<ellipse cx="561.6" cy="1156.5" rx="14" ry="7.5" stroke-width="1.8" fill="none" transform="rotate(-12 561.6 1156.5)" />
<ellipse cx="561.6" cy="1153.5" rx="14" ry="7.5" transform="rotate(-12 561.6 1153.5)" fill="#fff" stroke-width="2"/>
<path d="M553.5,1147 L555,1153 C557,1157 566,1156 567,1152 L566,1145" stroke-width="1.8" fill="#fff" />
<ellipse cx="559.7" cy="1144.5" rx="6.7" ry="4" stroke-width="2" fill="#fff" transform="rotate(-15 559.7 1144.5)" />
<ellipse cx="570.1" cy="1177" rx="14.25" ry="8.6" stroke-width="1.8" fill="none" transform="rotate(-12 570.1 1177)" />
<ellipse cx="570.1" cy="1173" rx="14.25" ry="8.6" transform="rotate(-12 570.1 1173)" fill="#fff" stroke-width="2.2"/>
<ellipse cx="569.5" cy="1171.5" rx="8" ry="4.8" stroke-width="1.8" fill="none" transform="rotate(-12 569.5 1171.5)" />
<ellipse cx="569.5" cy="1171.5" rx="4" ry="2.4" stroke-width="1.5" fill="none" transform="rotate(-12 569.5 1171.5)" />
<path d="M573.9,1184.4 L578.7,1199.6 L573.9,1204.4" stroke-width="1.8" fill="none" />
<line x1="548" y1="1115" x2="560" y2="1142" stroke-width="1.6" />
<path d="M568.2,1210 L440,1337.5 L443.75,1347.5 L536.25,1597.5 L550,1635" stroke-width="2.4" fill="none" class="dd" />
<path d="M606.25,1116 L646.25,1218" stroke-width="2.4" fill="none" class="dd" />
<ellipse cx="648.75" cy="1222.5" rx="6" ry="4" stroke-width="1.8" fill="none" />
<line x1="645" y1="1228.75" x2="702.5" y2="1382.5" stroke-width="1.6" />
<line x1="658.75" y1="1226.25" x2="715" y2="1380" stroke-width="1.6" />
<path d="M643,1226 L645,1229 C648,1232 656,1230 659,1226 L656,1220" stroke-width="1.6" fill="none" />
<ellipse cx="709" cy="1381.5" rx="7" ry="3.5" stroke-width="1.6" fill="none" transform="rotate(-15 709 1381.5)" />
<path d="M702,1384 L704,1391 C707,1394 715,1393 718,1388 L716,1381" stroke-width="1.6" fill="none" />
<line x1="704.8" y1="1393.9" x2="750.2" y2="1515" stroke-width="1.6" />
<line x1="718" y1="1388.1" x2="764.2" y2="1506.8" stroke-width="1.6" />
<path d="M747.7,1516.7 L754.3,1538.1 L762.5,1540.6 L777.3,1530.7 L777.3,1524.9 L770.8,1510.9 L767.5,1510.1 Z" stroke-width="2.2" fill="#fff" />
<line x1="751" y1="1517" x2="757" y2="1536" stroke-width="2.6" />
<line x1="757" y1="1515" x2="762" y2="1534" stroke-width="2.6" />
<line x1="763" y1="1512" x2="768" y2="1532" stroke-width="2.6" />
<line x1="768" y1="1511" x2="773" y2="1529" stroke-width="2.6" />
<path d="M755,1537 C760,1541 770,1538 776,1531" stroke-width="1.4" fill="none" />
<line x1="650" y1="1226" x2="653" y2="1232" stroke-width="1" />
<path d="M754.2,1172.6 C753.8,1171.3 752.0,1168.3 752.3,1166.1 C752.5,1163.9 754.0,1162.4 755.5,1161.5 C757.1,1160.6 759.2,1161.5 760.1,1161.5 L774.5,1166.1 L781.0,1173.3 L781.0,1178.5" stroke-width="2.2" fill="none" />
<path d="M759.46,1164.14 L773.83,1168.06 L779.71,1174.6" stroke-width="1.3" fill="none" />
<path d="M779.71,1176.55 L741.17,1231.42" stroke-width="3.2" fill="none" />
<path d="M776.44,1176.55 L739.21,1228.81" stroke-width="1.4" fill="none" />
<path d="M754.24,1172.64 L736.6,1196.8 L739.21,1200.07 L738.56,1203.33 L734.64,1203.99 L730.72,1200.72 L727.46,1201.37 L715.05,1217.7 L707.86,1219.01 L692.18,1230.11 L692.18,1235.99 L713.74,1241.87 L726.8,1232.07" stroke-width="2.2" fill="none" />
<path d="M693.49,1234.03 L713.74,1239.26" stroke-width="1.3" fill="none" />
<path d="M712.43,1224.24 L740.52,1231.42" stroke-width="3" fill="none" />
<path d="M712.43,1224.24 L715.05,1241.87" stroke-width="2.2" fill="none" />
<path d="M730.72,1196.15 L731.37,1202.03" stroke-width="1.6" fill="none" />
<path d="M733.33,1203.99 L735.95,1213.13" stroke-width="1.6" fill="none" />
<ellipse cx="736.6" cy="1217.7" rx="5" ry="4.4" stroke-width="1" fill="#000" />
<ellipse cx="708.51" cy="1230.11" rx="2.8" ry="4" stroke-width="1" fill="#000" />
<path d="M741.17,1231.42 L745.74,1243.18" stroke-width="1.8" fill="none" />
<path d="M745,1244 L750.5,1264 L755.5,1262.5 L750,1242.5 Z" stroke-width="1" fill="#000" />
<ellipse cx="753.75" cy="1266.5" rx="6" ry="5.5" stroke-width="2.2" fill="#000" />
<ellipse cx="752.5" cy="1265" rx="2.5" ry="1.6" fill="#fff" stroke="none"/>
<line x1="744" y1="1233" x2="746" y2="1242" stroke-width="1.4" />
<ellipse cx="727.5" cy="1280.5" rx="14" ry="8" stroke-width="1.8" fill="none" transform="rotate(-12 727.5 1280.5)" />
<ellipse cx="727.5" cy="1277.5" rx="14" ry="8" transform="rotate(-12 727.5 1277.5)" fill="#fff" stroke-width="2"/>
<ellipse cx="726" cy="1276.5" rx="5" ry="3" stroke-width="1.5" fill="none" />
<ellipse cx="722.5" cy="1267.5" rx="15" ry="9" stroke-width="1.8" fill="none" transform="rotate(-12 722.5 1267.5)" />
<ellipse cx="722.5" cy="1265" rx="15" ry="9" transform="rotate(-12 722.5 1265)" fill="#fff" stroke-width="2"/>
<ellipse cx="721.5" cy="1264.5" rx="5" ry="3" stroke-width="1.5" fill="none" />
<line x1="730" y1="1286" x2="741" y2="1312" stroke-width="1.4" />
<ellipse cx="745.5" cy="1328" rx="38" ry="25" stroke-width="1.8" fill="none" transform="rotate(-20 745.5 1328)" />
<ellipse cx="743.75" cy="1318.75" rx="37.5" ry="27" transform="rotate(-20 743.75 1318.75)" fill="#fff" stroke-width="2.2"/>
<ellipse cx="742.5" cy="1318.5" rx="31" ry="21.5" stroke-width="2" fill="none" transform="rotate(-20 742.5 1318.5)" />
<ellipse cx="742" cy="1318" rx="27.5" ry="18.5" stroke-width="1.5" fill="none" transform="rotate(-20 742 1318)" />
<ellipse cx="742" cy="1317.5" rx="9" ry="6.5" stroke-width="2" fill="#000" transform="rotate(-20 742 1317.5)" />
<ellipse cx="742" cy="1317.5" rx="14" ry="9" stroke-width="1.2" fill="none" transform="rotate(-20 742 1317.5)" />
<ellipse cx="760.62" cy="1317.5" rx="1.2" ry="1.2" stroke-width="1" fill="#000" />
<ellipse cx="755.17" cy="1326.34" rx="1.2" ry="1.2" stroke-width="1" fill="#000" />
<ellipse cx="742" cy="1330" rx="1.2" ry="1.2" stroke-width="1" fill="#000" />
<ellipse cx="728.83" cy="1326.34" rx="1.2" ry="1.2" stroke-width="1" fill="#000" />
<ellipse cx="723.38" cy="1317.5" rx="1.2" ry="1.2" stroke-width="1" fill="#000" />
<ellipse cx="728.83" cy="1308.66" rx="1.2" ry="1.2" stroke-width="1" fill="#000" />
<ellipse cx="742" cy="1305" rx="1.2" ry="1.2" stroke-width="1" fill="#000" />
<ellipse cx="755.17" cy="1308.66" rx="1.2" ry="1.2" stroke-width="1" fill="#000" />
<path d="M749.1,1355.4 L754.2,1350.3 L761.9,1350.3 L768.3,1352.8 L770.3,1359.2 L769,1368.2 L763.2,1372 L755.5,1372 L749.7,1365.6 L748.5,1359.2 Z" stroke-width="2.4" fill="#fff" />
<ellipse cx="758.7" cy="1356" rx="9" ry="5" stroke-width="2" fill="none" />
<ellipse cx="758.1" cy="1354.6" rx="5" ry="3.2" stroke-width="1" fill="#000" />
<line x1="752" y1="1362" x2="751" y2="1368" stroke-width="1.4" />
<line x1="766.5" y1="1362" x2="767" y2="1369" stroke-width="1.4" />
<line x1="757" y1="1363" x2="757" y2="1371" stroke-width="1.2" />
<path d="M779.4,1430.2 C777.4,1430.7 773.0,1431.6 769.5,1432.6 C765.9,1433.6 763.8,1434.1 761.9,1435.2 C759.9,1436.3 759.4,1437.1 759.5,1438.3 C759.6,1439.5 760.1,1440.5 762.3,1441.1 C764.5,1441.8 767.0,1442.0 770.4,1441.6 C773.8,1441.2 776.0,1440.1 779.4,1439.0 C782.9,1437.9 785.9,1436.5 787.5,1435.9 L791.1,1436.4 L792.7,1440.0 L802.7,1486.5 L801.3,1490.8 L798.4,1490.3 L753.3,1478.9 L749.5,1477.7" stroke-width="3.6" fill="none" />
<path d="M779.4,1430.2 C777.4,1430.7 773.0,1431.6 769.5,1432.6 C765.9,1433.6 763.8,1434.1 761.9,1435.2 C759.9,1436.3 759.4,1437.1 759.5,1438.3 C759.6,1439.5 760.1,1440.5 762.3,1441.1 C764.5,1441.8 767.0,1442.0 770.4,1441.6 C773.8,1441.2 776.0,1440.1 779.4,1439.0 C782.9,1437.9 785.9,1436.5 787.5,1435.9 L791.1,1436.4 L792.7,1440.0 L802.7,1486.5 L801.3,1490.8 L798.4,1490.3 L753.3,1478.9 L749.5,1477.7" stroke-width="1.1" fill="none" style="stroke:#fff"/>
<path d="M800,633.75 L787.5,665 L787.5,967.5 L790,972.5 L845,1082.5 L960,1465 L960,1467.5 L782,1577" stroke-width="2.4" fill="none" class="dd" />
<path d="M563.6,1642.5 C567.0,1642.2 577.7,1640.5 584.1,1640.7 C590.5,1640.8 596.2,1641.6 601.9,1643.4 C607.5,1645.1 613.8,1648.4 617.9,1651.4 C622.1,1654.3 624.7,1658.1 626.8,1661.2 C628.9,1664.3 629.8,1666.4 630.4,1670.1 C631.0,1673.8 630.4,1681.2 630.4,1683.4" stroke-width="3.6" fill="none" />
<path d="M624.15,1683.44 L631.28,1685.22 L632.17,1692.35 L628.61,1695.02 L552.01,1708.38 L533.3,1700.37 L508.36,1684.33 L506.58,1679.88 L509.25,1676.32 L526.17,1675.43 L550.22,1660.28" stroke-width="2.4" fill="none" />
<path d="M628.61,1693.24 L550.22,1705.71" stroke-width="1.6" fill="none" />
<path d="M526.17,1676.32 L533.3,1700.37" stroke-width="2.4" fill="none" />
<path d="M551.11,1659.39 L547.55,1707.49" stroke-width="2.8" fill="none" />
<path d="M563.6,1643.4 C561.1,1642.9 552.3,1640.4 548.4,1640.7 C544.6,1641.0 541.9,1643.7 540.4,1645.1 C538.9,1646.6 539.1,1648.1 539.5,1649.6 C540.0,1651.1 541.2,1652.4 543.1,1654.0 C545.0,1655.7 549.8,1658.5 551.1,1659.4" stroke-width="2.2" fill="none" />
<path d="M551.1,1654.0 L564.5,1686.1 C566,1691 576,1691 578,1681 L563.6,1648.7" stroke-width="2.2" fill="#fff" />
<ellipse cx="556.5" cy="1646.5" rx="8" ry="6.2" stroke-width="1.5" fill="#000" transform="rotate(-10 556.5 1646.5)" />
<ellipse cx="514.6" cy="1680.8" rx="4.5" ry="2.7" stroke-width="1" fill="#000" />
<ellipse cx="516.4" cy="1642.5" rx="7.1" ry="5.3" stroke-width="2" fill="#000" />
<ellipse cx="516.25" cy="1645" rx="4" ry="1.8" fill="#fff" stroke="none"/>
<ellipse cx="515.9" cy="1660.7" rx="8.5" ry="4.5" stroke-width="2" fill="#000" />
<line x1="516.25" y1="1648" x2="516.25" y2="1655" stroke-width="1.6" />
<line x1="516.25" y1="1664" x2="516.25" y2="1676" stroke-width="1.6" />
<path d="M516.25,1692.5 L516.25,1760" stroke-width="2.4" fill="none" class="dd" />
<path d="M500,1500 L550,1635" stroke-width="2.4" fill="none" class="dd" />
<path d="M520,1771.25 L702.5,1663.75 L745,1666.25 L775,1647.5 L767.5,1600" stroke-width="2" fill="none" />
<path d="M515,1790 L705,1675 L746.25,1677.5 L788.75,1647.5 L781.25,1600" stroke-width="2" fill="none" />
<path d="M509,1784 L515,1790" stroke-width="2" fill="none" />
<path d="M509,1784 L520,1777 L525,1781" stroke-width="2" fill="none" />
<path d="M513,1758 L514,1777 L520,1777 L519,1758 Z" stroke-width="1" fill="#000" />
<ellipse cx="516" cy="1778.5" rx="5" ry="3.5" stroke-width="2" fill="none" />
<path d="M776,1582 L772,1598 L777.5,1599 L781,1583 Z" stroke-width="1" fill="#000" />
<ellipse cx="774" cy="1600" rx="7" ry="3.5" stroke-width="2" fill="#fff" />
<path d="M794.51,407.79 L846.88,449.47 L866.12,459.09 L932.39,484.75 L953.77,499.71 L1013.62,544.6 L1035,555.29 L1073.48,567.05" stroke-width="2" fill="none" />
<path d="M767.79,451.61 L1073.48,626.9" stroke-width="2" fill="none" />
<path d="M768.86,401.38 L761.38,446.27 L767.79,451.61" stroke-width="2" fill="none" />
<path d="M791.3,411 L774.2,418.48 L772.06,427.03 L773.78,431.3 L771,437.72 L772.06,444.13 L767.79,450.54" stroke-width="2" fill="none" />
<path d="M778.48,421.68 L814.82,448.41" stroke-width="1.8" fill="none" />
<path d="M824.44,452.68 L851.16,467.64" stroke-width="1.8" fill="none" />
<path d="M855.43,474.06 L874.67,482.61" stroke-width="1.8" fill="none" />
<path d="M880.02,483.68 L906.74,492.23" stroke-width="1.8" fill="none" />
<path d="M917.43,496.5 L960.18,521.09" stroke-width="1.8" fill="none" />
<path d="M958.04,525.36 L970.87,532.84" stroke-width="1.8" fill="none" />
<path d="M979.42,538.19 L1002.93,555.29 L1015.76,562.77" stroke-width="1.8" fill="none" />
<path d="M1037.14,573.46 L1049.96,579.87" stroke-width="1.8" fill="none" />
<path d="M1058.51,579.87 L1067.06,582.01" stroke-width="1.8" fill="none" />
<path d="M834.06,455.89 L846.88,449.47" stroke-width="1.8" fill="none" />
<path d="M851.16,467.64 L866.12,459.09" stroke-width="1.8" fill="none" />
<path d="M917.43,496.5 L932.39,485.81" stroke-width="1.8" fill="none" />
<path d="M932.39,500.78 L946.28,493.3" stroke-width="1.8" fill="none" />
<path d="M999.73,555.29 L1013.62,544.6" stroke-width="1.8" fill="none" />
<path d="M1020.03,563.84 L1033.93,555.29" stroke-width="1.8" fill="none" />
<ellipse cx="781.68" cy="448.41" rx="2.5" ry="3.5" stroke-width="1" fill="#000" transform="rotate(-20 781.68 448.41)" />
<ellipse cx="1046.76" cy="599.11" rx="2.5" ry="3.5" stroke-width="1" fill="#000" transform="rotate(-20 1046.76 599.11)" />
<path d="M894.98,495.43 L897.12,493.3 L947.35,521.09 L947.35,546.74 L943.08,546.74 L894.98,518.95 L894.98,495.43" stroke-width="2" fill="none" />
<path d="M904.6,498.64 L904.6,512.54 L911.01,516.81 L938.8,529.64 L939.87,518.95 L923.84,508.26" stroke-width="1.8" fill="none" />
<path d="M922,509 L930,525 M925,508 L935,523 M919,513 L929,528 M918,518 L933,516" stroke-width="1.8" fill="none" />
<ellipse cx="928" cy="516.5" rx="5" ry="7" stroke-width="2" fill="none" transform="rotate(-30 928 516.5)" />
<ellipse cx="781.7" cy="402.4" rx="12.5" ry="9" stroke-width="3.2" fill="#fff" />
<ellipse cx="782" cy="404" rx="8" ry="5.5" stroke-width="1.5" fill="none" />
<ellipse cx="1082" cy="573.5" rx="12.5" ry="8.6" stroke-width="3.2" fill="#fff" />
<ellipse cx="1082" cy="575" rx="8" ry="5.5" stroke-width="1.5" fill="none" />
<path d="M1093.78,573.46 L1095.92,625.83 L1086.3,630.11 L1073.48,627.97" stroke-width="2" fill="none" />
<path d="M1069.2,572.39 L1069.2,585.22 L1065.99,591.63 L1070.27,595.9 L1067.06,604.45 L1071.34,608.73 L1068.13,615.14 L1070.27,627.97" stroke-width="2.2" fill="none" />
<ellipse cx="1002.9" cy="471.9" rx="8.4" ry="10.3" stroke-width="2" fill="none" transform="rotate(20 1002.9 471.9)" />
<ellipse cx="1003.5" cy="473" rx="6.5" ry="8" stroke-width="1.5" fill="none" transform="rotate(20 1003.5 473)" />
<ellipse cx="1002" cy="474" rx="3.5" ry="4.5" stroke-width="1" fill="#000" transform="rotate(20 1002 474)" />
<ellipse cx="870.4" cy="551.01" rx="6" ry="8.5" stroke-width="2.2" fill="none" transform="rotate(30 870.4 551.01)" />
<ellipse cx="870.4" cy="551.01" rx="3.2" ry="5" stroke-width="1.6" fill="none" transform="rotate(30 870.4 551.01)" />
<path d="M868.26,543.53 L892.84,528.57 L899.26,538.19 L899.26,542.46 L873.6,557.43" stroke-width="2" fill="none" />
<path d="M900.32,529.64 L923.84,514.67" stroke-width="1.6" fill="none" />
<path d="M829.1,565.8 L836.6,560.4 L841.6,561.6 L846.6,569.1 L844.9,573.3 L839.1,578.2 L832.5,574.9 L829.1,567.4 Z" stroke-width="2.2" fill="#fff" />
<line x1="836.6" y1="561.6" x2="842.4" y2="573.3" stroke-width="1.6" />
<path d="M842,560 L862,549 L866,557 L846,568 Z" stroke-width="1" fill="#000" />
<ellipse cx="806.3" cy="404.6" rx="1.2" ry="1.2" stroke-width="1" fill="#000" />
<line x1="819.75" y1="398.5" x2="848.2" y2="381.3" stroke-width="1.8" />
<path d="M865,366 L868.5,362.1 L874.9,362.1 L877,365.7 L875.6,373.2 L872.8,374.9 L867.1,374.9 Z" stroke-width="2.2" fill="#fff" />
<line x1="873" y1="363" x2="875.5" y2="368" stroke-width="1.5" />
<path d="M848.2,375.6 L850.3,368.2 L857.5,364.3 L861,366 L865,366 L867.8,382.1 L861.4,385.6 L850.7,383.8 Z" stroke-width="2.4" fill="#000" />
<path d="M851.5,370 L856,367.5 L859,370" stroke-width="1.2" fill="none" style="stroke:#fff"/>
<path d="M861,369 L864,374 L865,377" stroke-width="1.3" fill="none" style="stroke:#fff"/>
<ellipse cx="794" cy="335.5" rx="12.8" ry="9.6" stroke-width="2.4" fill="#fff" />
<path d="M781.5,334.5 C783,345.5 805,345.5 806.5,334.5 C803,339.5 785,339.5 781.5,334.5 Z" stroke-width="2" fill="#000" />
<path d="M778,354.5 C780,349.5 787,349.5 789,352.5 C796,352.5 798,358.5 796,362.5 C794,366.5 785,366.5 785,361.5 C788,359.5 791,359.5 791,356.5" stroke-width="2.2" fill="none" />
<path d="M778,354.5 C780,356.5 784,355.5 789,354.5" stroke-width="2" fill="none" />
<ellipse cx="786.8" cy="377" rx="14.4" ry="7.5" stroke-width="3" fill="#fff" />
<ellipse cx="786.3" cy="377" rx="8.5" ry="4.5" stroke-width="2.6" fill="none" />
<line x1="781.8" y1="375.5" x2="791.8" y2="375.5" stroke-width="1.4" />
<line x1="781.8" y1="379" x2="791.8" y2="379" stroke-width="1.4" />
<line x1="786.8" y1="373" x2="786.8" y2="381" stroke-width="1.6" />
<line x1="794" y1="345.5" x2="793.5" y2="349.5" stroke-width="1.6" />
<line x1="787" y1="366" x2="786.5" y2="369" stroke-width="1.6" />
<line x1="785" y1="384.5" x2="784" y2="393" stroke-width="1.6" />
<ellipse cx="767.25" cy="480.25" rx="14.5" ry="9" stroke-width="1.8" fill="none" />
<ellipse cx="767.25" cy="476.25" rx="14.5" ry="9" fill="#fff" stroke-width="2.4"/>
<ellipse cx="767.25" cy="476.25" rx="8" ry="4.8" stroke-width="1.8" fill="none" />
<ellipse cx="767.25" cy="476.25" rx="4" ry="2.4" stroke-width="1.3" fill="none" />
<line x1="759.25" y1="476.25" x2="775.25" y2="476.25" stroke-width="1.2" />
<ellipse cx="762.25" cy="506.5" rx="14.5" ry="9" stroke-width="1.8" fill="none" />
<ellipse cx="762.25" cy="502.5" rx="14.5" ry="9" fill="#fff" stroke-width="2.4"/>
<ellipse cx="762.25" cy="502.5" rx="8" ry="4.8" stroke-width="1.8" fill="none" />
<ellipse cx="762.25" cy="502.5" rx="4" ry="2.4" stroke-width="1.3" fill="none" />
<line x1="754.25" y1="502.5" x2="770.25" y2="502.5" stroke-width="1.2" />
<line x1="767.5" y1="453" x2="765" y2="465" stroke-width="1.6" />
<line x1="763.5" y1="489.5" x2="763" y2="494" stroke-width="1.6" />
<line x1="759" y1="515" x2="754" y2="543" stroke-width="1.6" />
<ellipse cx="753.5" cy="548.1" rx="7.2" ry="5" stroke-width="2.4" fill="#fff" />
<path d="M747.3,552.4 L738.6,602.3 C739,607 750,608 751.6,603.6 L759.8,551.8" stroke-width="2" fill="none" />
<line x1="756.6" y1="530" x2="755.4" y2="542.5" stroke-width="1.6" />
<path d="M752.89,589.23 L820.85,617.28" stroke-width="2" fill="none" />
<path d="M741.05,591.1 L691.17,631" stroke-width="2" fill="none" />
<path d="M691.17,631 L690.55,637.23 L710.5,647.83 L749.78,614.79 L761,614.79 L810.87,637.23 L820.85,624.76 L820.85,617.28" stroke-width="2.2" fill="none" />
<path d="M691.17,633.49 L710.5,644.71 L749.15,612.92 L759.75,612.92 L810.25,634.74 L820.22,621.65" stroke-width="1.4" fill="none" />
<ellipse cx="709.3" cy="631.6" rx="5" ry="3" stroke-width="2.2" fill="none" transform="rotate(-10 709.3 631.6)" />
<ellipse cx="802.8" cy="620.4" rx="4.4" ry="3.7" stroke-width="1" fill="#000" />
<path d="M737.9,628.5 L746.0,628.5 L747.9,621.0" stroke-width="1.8" fill="none" />
<path d="M680.57,586.11 L709.88,602.32" stroke-width="2" fill="none" />
<path d="M676.21,596.08 L707.38,611.67" stroke-width="2" fill="none" />
<path d="M680.6,586.1 C674,584 672,594 676.2,596.1" stroke-width="3" fill="none" />
<ellipse cx="717.4" cy="606.1" rx="7.5" ry="10" stroke-width="3" fill="none" transform="rotate(25 717.4 606.1)" />
<ellipse cx="718.5" cy="606.5" rx="4.5" ry="8" stroke-width="2" fill="none" transform="rotate(25 718.5 606.5)" />
<line x1="709.9" y1="649.1" x2="709.9" y2="664.7" stroke-width="1.6" />
<ellipse cx="708.6" cy="668.4" rx="8.7" ry="4.4" stroke-width="2" fill="#000" />
<line x1="709.9" y1="673" x2="709.9" y2="678" stroke-width="1.6" />
<ellipse cx="709.3" cy="683.4" rx="6.9" ry="5.6" stroke-width="2" fill="#000" />
<ellipse cx="709.3" cy="686.5" rx="4" ry="1.8" fill="#fff" stroke="none"/>
<line x1="709.9" y1="690.8" x2="709.9" y2="698.3" stroke-width="1.6" />
<ellipse cx="816.5" cy="581.1" rx="7.2" ry="5.8" stroke-width="2" fill="#000" />
<ellipse cx="816.5" cy="584" rx="3.5" ry="1.6" fill="#fff" stroke="none"/>
<ellipse cx="807.8" cy="601.7" rx="7.5" ry="4.4" stroke-width="2" fill="#000" transform="rotate(20 807.8 601.7)" />
<line x1="814.6" y1="585" x2="811" y2="599" stroke-width="1.6" />
<line x1="807" y1="606" x2="805" y2="617" stroke-width="1.6" />
<path d="M678,630 L676.25,632.5 L676.25,795" stroke-width="2.4" fill="none" class="dd" />
<path d="M683.75,800 L728.75,825 L731.25,825 L731.25,770" stroke-width="2.4" fill="none" class="dd" />
<line x1="746.4" y1="750.9" x2="943.5" y2="871.8" stroke-width="2.2" />
<line x1="742.6" y1="760.4" x2="940" y2="882.1" stroke-width="2.2" />
<path d="M746.4,751.4 L742.6,759.5 L738.8,758 L729.3,752.3 L725.9,749 L731.2,740.5 L735.4,740.5 L746.4,750.4 Z" stroke-width="2.2" fill="#fff" />
<path d="M731.2,753.8 L731.2,766.1 L735,767.5 L739.2,765.2 L740.2,759.4 Z" stroke-width="1.2" fill="#000" />
<line x1="731.9" y1="770" x2="731.9" y2="790" stroke-width="2" />
<path d="M943.5,872.1 L948.5,872.5 L958.5,880 L962,880.7 L963.8,883.2 L962.8,888.5 L958.8,892.8 L955.3,892.8 L954.9,890.3 L940,882.1 Z" stroke-width="2.2" fill="#fff" />
<path d="M943.5,872.1 L940,882.1" stroke-width="2.2" fill="none" />
<path d="M958.5,880.7 L955.3,885 L954.9,890.3" stroke-width="2" fill="none" />
<path d="M945.6,887.4 L946.4,899.2 L950.3,901 L954.6,899.2 L954.9,890.3 Z" stroke-width="1.2" fill="#000" />
<line x1="949.9" y1="901" x2="949.9" y2="937.5" stroke-width="2" />
<path d="M1015,765 L1028.75,757.5" stroke-width="1.8" fill="none" />
<path d="M1013.1,766.1 L1013.1,908" stroke-width="2.4" fill="none" class="dd" />
<path d="M1010,912.5 L965,937.5 L955,941" stroke-width="2.4" fill="none" class="dd" />
<ellipse cx="1077.5" cy="503" rx="12.8" ry="9.6" stroke-width="2.4" fill="#fff" />
<path d="M1065.0,502 C1066.5,513 1088.5,513 1090.0,502 C1086.5,507 1068.5,507 1065.0,502 Z" stroke-width="2" fill="#000" />
<path d="M1066,523.5 C1068,518.5 1075,518.5 1077,521.5 C1084,521.5 1086,527.5 1084,531.5 C1082,535.5 1073,535.5 1073,530.5 C1076,528.5 1079,528.5 1079,525.5" stroke-width="2.2" fill="none" />
<path d="M1066,523.5 C1068,525.5 1072,524.5 1077,523.5" stroke-width="2" fill="none" />
<ellipse cx="1080.5" cy="547" rx="14.4" ry="7.5" stroke-width="3" fill="#fff" />
<ellipse cx="1080" cy="547" rx="8.5" ry="4.5" stroke-width="2.6" fill="none" />
<line x1="1075.5" y1="545.5" x2="1085.5" y2="545.5" stroke-width="1.4" />
<line x1="1075.5" y1="549" x2="1085.5" y2="549" stroke-width="1.4" />
<line x1="1080.5" y1="543" x2="1080.5" y2="551" stroke-width="1.6" />
<line x1="1077.5" y1="513" x2="1077" y2="518" stroke-width="1.6" />
<line x1="1079" y1="533" x2="1079" y2="537" stroke-width="1.6" />
<line x1="1080.5" y1="555" x2="1081" y2="566" stroke-width="1.6" />
<path d="M1161.9,538 L1165.4,534.1 L1171.8,534.1 L1173.9,537.7 L1172.5,545.2 L1169.7,546.9 L1164,546.9 Z" stroke-width="2.2" fill="#fff" />
<line x1="1169.9" y1="535" x2="1172.4" y2="540" stroke-width="1.5" />
<path d="M1145.1,547.6 L1147.2,540.2 L1154.4,536.3 L1157.9,538 L1161.9,538 L1164.7,554.1 L1158.3,557.6 L1147.6,555.8 Z" stroke-width="2.4" fill="#000" />
<path d="M1148.4,542 L1152.9,539.5 L1155.9,542" stroke-width="1.2" fill="none" style="stroke:#fff"/>
<path d="M1157.9,541 L1160.9,546 L1161.9,549" stroke-width="1.3" fill="none" style="stroke:#fff"/>
<line x1="1115" y1="570" x2="1146" y2="552" stroke-width="1.8" />
<ellipse cx="1102.5" cy="577.5" rx="1.2" ry="1.2" stroke-width="1" fill="#000" />
<ellipse cx="1087" cy="662" rx="14.5" ry="9" stroke-width="1.8" fill="none" />
<ellipse cx="1087" cy="658" rx="14.5" ry="9" fill="#fff" stroke-width="2.4"/>
<ellipse cx="1087" cy="658" rx="8" ry="4.8" stroke-width="1.8" fill="none" />
<ellipse cx="1087" cy="658" rx="4" ry="2.4" stroke-width="1.3" fill="none" />
<line x1="1079" y1="658" x2="1095" y2="658" stroke-width="1.2" />
<ellipse cx="1089" cy="688" rx="14.5" ry="9" stroke-width="1.8" fill="none" />
<ellipse cx="1089" cy="684" rx="14.5" ry="9" fill="#fff" stroke-width="2.4"/>
<ellipse cx="1089" cy="684" rx="8" ry="4.8" stroke-width="1.8" fill="none" />
<ellipse cx="1089" cy="684" rx="4" ry="2.4" stroke-width="1.3" fill="none" />
<line x1="1081" y1="684" x2="1097" y2="684" stroke-width="1.2" />
<line x1="1084" y1="630.5" x2="1086" y2="648" stroke-width="1.6" />
<line x1="1088" y1="671.5" x2="1088.5" y2="674.5" stroke-width="1.6" />
<line x1="1089" y1="697" x2="1089.5" y2="703" stroke-width="1.6" />
<ellipse cx="1089.8" cy="708.1" rx="7.8" ry="5.6" stroke-width="3" fill="#fff" />
<path d="M1084.76,714.31 L1087.88,764.81" stroke-width="2.2" fill="none" />
<path d="M1094.11,713.07 L1097.86,764.81" stroke-width="2.2" fill="none" />
<path d="M1086.0,763.6 L1088.5,767.9 L1094.7,767.9 L1098.5,764.8" stroke-width="2" fill="none" />
<path d="M1019.93,788.5 L1086.01,759.83" stroke-width="2" fill="none" />
<path d="M1098.48,757.33 L1109.7,763.57 L1110.95,769.8 L1036.13,799.73 L1031.15,803.47 L1019.93,793.49 L1019.93,788.5" stroke-width="2" fill="none" />
<path d="M1021.17,789.75 L1036.13,798.48 L1110.32,767.93" stroke-width="1.6" fill="none" />
<ellipse cx="1037.4" cy="789.8" rx="5" ry="2.2" stroke-width="1.6" fill="none" />
<path d="M1088.5,782.3 C1088.7,784.1 1088.5,789.3 1089.8,793.5 C1091.0,797.6 1093.8,803.9 1096.0,807.2 C1098.2,810.5 1101.7,812.4 1102.8,813.4" stroke-width="2" fill="none" />
<path d="M1098.5,777.3 C1098.7,779.8 1098.4,787.9 1099.7,792.2 C1101.1,796.6 1105.4,801.6 1106.6,803.5" stroke-width="2" fill="none" />
<ellipse cx="1115.9" cy="814.7" rx="13.7" ry="18" stroke-width="2.4" fill="none" transform="rotate(25 1115.9 814.7)" />
<ellipse cx="1118.4" cy="815.9" rx="10" ry="15.6" stroke-width="2.6" fill="none" transform="rotate(25 1118.4 815.9)" />
<path d="M1117.18,808.45 L1159.58,830.9" stroke-width="2" fill="none" />
<path d="M1110.95,818.43 L1155.84,842.74" stroke-width="2" fill="none" />
<ellipse cx="1159.6" cy="837.8" rx="5.2" ry="7.5" stroke-width="3" fill="none" transform="rotate(25 1159.6 837.8)" />
<line x1="1164" y1="840" x2="1175" y2="845" stroke-width="1.6" />
<line x1="1036.8" y1="754.2" x2="1036.8" y2="757.9" stroke-width="2" />
<line x1="1036.8" y1="768.5" x2="1036.8" y2="789.8" stroke-width="1.6" />
<line x1="1037.4" y1="803.5" x2="1037.4" y2="820.9" stroke-width="1.6" />
<ellipse cx="1037.4" cy="823.4" rx="8.5" ry="3.7" stroke-width="2" fill="#000" />
<line x1="1037.4" y1="828" x2="1037.4" y2="834" stroke-width="1.6" />
<ellipse cx="1038" cy="839.6" rx="6.9" ry="5.6" stroke-width="2" fill="#000" />
<ellipse cx="1038" cy="842.5" rx="3.8" ry="1.6" fill="#fff" stroke="none"/>
<line x1="1037.4" y1="845.9" x2="1037.4" y2="853.3" stroke-width="1.6" />
<ellipse cx="1183.3" cy="848.4" rx="10.8" ry="14.5" stroke-width="2.2" fill="none" transform="rotate(20 1183.3 848.4)" />
<ellipse cx="1183.8" cy="849.4" rx="5.8" ry="8.7" stroke-width="2.2" fill="none" transform="rotate(20 1183.8 849.4)" />
<line x1="1177.3" y1="846.4" x2="1190.3" y2="852.4" stroke-width="1.4" />
<ellipse cx="1204.5" cy="861.3" rx="10.8" ry="14.5" stroke-width="2.2" fill="none" transform="rotate(20 1204.5 861.3)" />
<ellipse cx="1205" cy="862.3" rx="5.8" ry="8.7" stroke-width="2.2" fill="none" transform="rotate(20 1205 862.3)" />
<line x1="1198.5" y1="859.3" x2="1211.5" y2="865.3" stroke-width="1.4" />
<line x1="1190" y1="853" x2="1196" y2="856" stroke-width="1.4" />
<line x1="1215" y1="866" x2="1222" y2="871" stroke-width="1.6" />
<line x1="1218" y1="862" x2="1219" y2="871" stroke-width="1.6" />
<g class="ds4">
<path d="M1225.6,859.8 C1227.9,856.6 1234.3,846.2 1239.0,840.5 C1243.7,834.8 1248.1,830.3 1253.8,825.6 C1259.5,820.9 1266.0,815.7 1273.1,812.3 C1280.3,808.8 1289.5,805.1 1296.9,804.8 C1304.3,804.6 1310.7,808.1 1317.7,810.8 C1324.6,813.5 1331.8,817.7 1338.5,821.2 C1345.1,824.6 1352.1,828.1 1357.8,831.6 C1363.4,835.0 1368.4,837.8 1372.6,842.0 C1376.8,846.2 1380.5,851.6 1383.0,856.8 C1385.5,862.0 1386.7,866.9 1387.4,873.1 C1388.2,879.3 1388.2,886.7 1387.4,893.9 C1386.7,901.1 1384.7,908.8 1383.0,916.2 C1381.3,923.6 1380.3,931.3 1377.1,938.5 C1373.8,945.6 1368.4,952.3 1363.7,959.2 C1359.0,966.2 1354.3,974.1 1348.8,980.0 C1343.4,986.0 1337.0,990.2 1331.0,994.9 C1325.1,999.6 1318.2,1005.5 1313.2,1008.2 C1308.3,1011.0 1307.0,1011.2 1301.3,1011.2 C1295.7,1011.2 1285.8,1010.0 1279.1,1008.2 C1272.4,1006.5 1267.9,1003.8 1261.3,1000.8 C1254.6,997.8 1246.4,994.6 1239.0,990.4 C1231.6,986.2 1222.2,980.5 1216.7,975.6 C1211.3,970.6 1208.7,966.9 1206.3,960.7 C1204.0,954.5 1202.9,947.1 1202.6,938.5 C1202.4,929.8 1203.0,917.9 1204.8,908.8 C1206.7,899.6 1212.3,887.7 1213.8,883.5" stroke-width="2.6" fill="none" />
<path d="M1268.7,1003.8 C1267.2,1001.1 1262.0,993.4 1259.8,987.4 C1257.5,981.5 1256.1,975.1 1255.3,968.1 C1254.6,961.2 1254.6,953.3 1255.3,945.9 C1256.1,938.5 1256.8,931.8 1259.8,923.6 C1262.7,915.4 1268.7,904.8 1273.1,896.9 C1277.6,889.0 1281.8,882.5 1286.5,876.1 C1291.2,869.7 1295.7,863.7 1301.3,858.3 C1307.0,852.8 1314.5,847.4 1320.6,843.4 C1326.8,839.5 1333.0,836.6 1338.5,834.5 C1343.9,832.4 1350.8,831.4 1353.3,830.8" stroke-width="2.6" fill="none" />
<path d="M1383.0,880.6 C1381.9,878.6 1379.3,872.4 1376.3,868.7 C1373.3,865.0 1369.8,860.4 1365.2,858.3 C1360.6,856.2 1353.7,856.1 1348.8,856.1 C1344.0,856.1 1340.4,856.4 1336.2,858.3 C1332.0,860.1 1328.2,863.2 1323.6,867.2 C1319.0,871.2 1313.7,876.1 1308.8,882.0 C1303.8,888.0 1298.4,894.7 1293.9,902.8 C1289.5,911.0 1284.8,922.6 1282.0,931.0 C1279.3,939.4 1277.8,946.4 1277.6,953.3 C1277.3,960.2 1278.8,966.9 1280.6,972.6 C1282.3,978.3 1284.5,983.2 1288.0,987.4 C1291.4,991.7 1296.6,996.1 1301.3,997.8 C1306.0,999.6 1311.2,999.1 1316.2,997.8 C1321.1,996.6 1326.1,993.6 1331.0,990.4 C1336.0,987.2 1341.4,982.7 1345.9,978.5 C1350.3,974.3 1354.0,970.6 1357.8,965.2 C1361.5,959.7 1364.9,952.8 1368.1,945.9 C1371.4,939.0 1374.6,930.8 1377.1,923.6 C1379.5,916.4 1382.0,910.0 1383.0,902.8 C1384.0,895.7 1383.0,884.3 1383.0,880.6" stroke-width="2.2" fill="none" />
<path d="M1360.7,877.6 C1359.5,876.1 1356.5,870.7 1353.3,868.7 C1350.1,866.7 1345.6,866.0 1341.4,865.7 C1337.2,865.5 1332.3,865.2 1328.1,867.2 C1323.9,869.2 1319.9,873.1 1316.2,877.6 C1312.5,882.0 1308.8,887.5 1305.8,893.9 C1302.8,900.4 1300.4,908.8 1298.4,916.2 C1296.4,923.6 1294.4,931.5 1293.9,938.5 C1293.4,945.4 1293.9,951.6 1295.4,957.8 C1296.9,963.9 1299.4,971.9 1302.8,975.6 C1306.3,979.3 1311.5,980.8 1316.2,980.0 C1320.9,979.3 1326.3,975.6 1331.0,971.1 C1335.7,966.7 1340.4,960.0 1344.4,953.3 C1348.4,946.6 1351.8,938.5 1354.8,931.0 C1357.8,923.6 1360.7,915.4 1362.2,908.8 C1363.7,902.1 1363.9,896.1 1363.7,891.0 C1363.4,885.8 1361.2,879.8 1360.7,877.6" stroke-width="2.2" fill="none" />
</g>
<path d="M1279.1,947.4 C1279.8,943.9 1281.3,933.5 1283.5,926.6 C1285.8,919.7 1288.5,913.0 1292.4,905.8 C1296.4,898.6 1302.6,889.2 1307.3,883.5 C1312.0,877.8 1318.4,873.6 1320.6,871.7" stroke-width="2" fill="none" />
<path d="M1317.67,870.17 L1316.19,887.98" stroke-width="2" fill="none" />
<path d="M1307.28,885.01 L1305.8,896.89" stroke-width="2" fill="none" />
<path d="M1296.89,920.64 L1304.31,908.76" stroke-width="2" fill="none" />
<path d="M1282.04,936.97 L1290.95,928.06" stroke-width="2" fill="none" />
<path d="M1279.07,948.85 L1292.43,939.94" stroke-width="2" fill="none" />
<path d="M1301.34,913.22 L1331.03,927.32" stroke-width="1.8" fill="none" />
<path d="M1340.68,932.52 L1344.39,934.74" stroke-width="2" fill="none" />
<path d="M1351.82,942.91 L1385.96,956.27" stroke-width="2" fill="none" />
<path d="M1351.07,944.39 L1358.5,933.26" stroke-width="2" fill="none" />
<path d="M1371.12,947.36 L1375.57,936.97" stroke-width="2" fill="none" />
<ellipse cx="1397.8" cy="960.7" rx="13.8" ry="19.3" stroke-width="2.4" fill="none" transform="rotate(20 1397.8 960.7)" />
<ellipse cx="1396.8" cy="962.2" rx="8" ry="12" stroke-width="2.6" fill="none" transform="rotate(20 1396.8 962.2)" />
<line x1="1387" y1="958" x2="1412" y2="969" stroke-width="1.8" />
<path d="M1410,975 C1413,963 1424,956 1431,960 C1437,964 1434,977 1429,980" stroke-width="2.4" fill="none" />
<path d="M1425.5,962 C1429,960 1432,966 1429,974" stroke-width="1.6" fill="none" />
<ellipse cx="1412" cy="984" rx="3.5" ry="8.5" stroke-width="2" fill="none" transform="rotate(10 1412 984)" />
</svg></body></html>
